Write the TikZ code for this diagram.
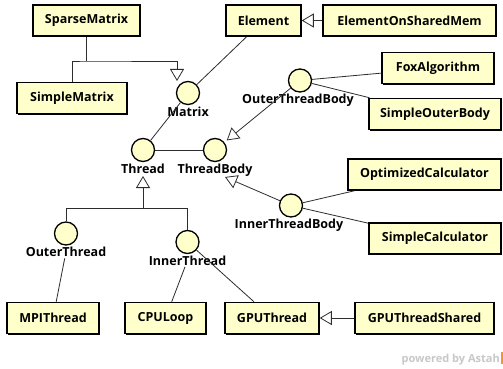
\documentclass[tikz,border=0pt]{standalone}
\usepackage{fontspec}
\setmainfont{Open Sans}
\usetikzlibrary{arrows.meta,shadows}
\definecolor{classfill}{RGB}{255,255,204}
\definecolor{linegray}{RGB}{45,45,45}
\definecolor{markgray}{RGB}{200,200,200}
\definecolor{astahorange}{RGB}{245,150,40}
\tikzset{
  classbox/.style={rectangle, draw=black, line width=1.5pt, fill=classfill,
    minimum height=31pt, inner sep=0pt,
    font=\fontsize{12.5}{14}\selectfont\bfseries,
    drop shadow={shadow xshift=1pt, shadow yshift=-1pt, fill=black, opacity=1}},
  iface/.style={circle, draw=black, line width=1.3pt, fill=classfill,
    minimum size=23pt, inner sep=0pt},
  ifacelabel/.style={anchor=base, inner sep=1.5pt,
    font=\fontsize{12.5}{14}\selectfont\bfseries},
  link/.style={draw=linegray, line width=0.8pt},
  gen/.style={link, -{Triangle[open, length=12pt, width=14pt, line width=0.8pt]}},
}
\begin{document}
\begin{tikzpicture}[x=1pt, y=-1pt]
\fill[white] (0,0) rectangle (503,369);
\useasboundingbox (0,0) rectangle (503,369);

% classes
\node[classbox, minimum width=107pt] (SparseMatrix) at (86.5,20.5) {SparseMatrix};
\node[classbox, minimum width=110pt] (SimpleMatrix) at (72,98) {SimpleMatrix};
\node[classbox, minimum width=75pt] (Element) at (263.5,20.5) {Element};
\node[classbox, minimum width=173pt] (ElementOnSharedMem) at (409.5,20.5) {ElementOnSharedMem};
\node[classbox, minimum width=112pt] (FoxAlgorithm) at (438,68) {FoxAlgorithm};
\node[classbox, minimum width=132pt] (SimpleOuterBody) at (435,114) {SimpleOuterBody};
\node[classbox, minimum width=153pt] (OptimizedCalculator) at (424.5,174.5) {OptimizedCalculator};
\node[classbox, minimum width=132pt] (SimpleCalculator) at (435,238.5) {SimpleCalculator};
\node[classbox, minimum width=92pt] (MPIThread) at (53,318) {MPIThread};
\node[classbox, minimum width=81pt] (CPULoop) at (165.5,318) {CPULoop};
\node[classbox, minimum width=94pt] (GPUThread) at (272,318) {GPUThread};
\node[classbox, minimum width=139pt] (GPUThreadShared) at (424.5,318) {GPUThreadShared};

% interfaces (lollipops) and their labels
\node[iface] (Matrix) at (188,93) {};
\node[ifacelabel] (MatrixL) at (188,116) {Matrix};
\node[iface] (OuterThreadBody) at (300,80.5) {};
\node[ifacelabel] (OuterThreadBodyL) at (298,103.5) {OuterThreadBody};
\node[iface] (Thread) at (143,150) {};
\node[ifacelabel] (ThreadL) at (143,173) {Thread};
\node[iface] (ThreadBody) at (215,150) {};
\node[ifacelabel] (ThreadBodyL) at (215,173) {ThreadBody};
\node[iface] (OuterThread) at (66,233.5) {};
\node[ifacelabel] (OuterThreadL) at (66,256.5) {OuterThread};
\node[iface] (InnerThread) at (187.5,242) {};
\node[ifacelabel] (InnerThreadL) at (187.5,265) {InnerThread};
\node[iface] (InnerThreadBody) at (291,205.5) {};
\node[ifacelabel] (InnerThreadBodyL) at (289,228.5) {InnerThreadBody};

% helper points for the generalization trees
\coordinate (mJoin) at (86.5,61);
\coordinate (mTip) at (177,81);
\coordinate (tJoin) at (143,208);
\coordinate (tTip) at (143,176);
\coordinate (tbTip) at (225,177);

% generalizations
\draw[link] (SparseMatrix.south) -- (mJoin);
\draw[gen] (SimpleMatrix.north) |- (mJoin) -| (mTip);
\draw[gen] (ElementOnSharedMem.west) -- (Element.east);
\draw[link] (InnerThread.north) |- (tJoin);
\draw[gen] (OuterThread.north) |- (tJoin) -- (tTip);
\draw[gen, shorten >=3pt] (OuterThreadBody) -- (ThreadBody);
\draw[gen] (InnerThreadBody) -- (tbTip);
\draw[gen] (GPUThreadShared.west) -- (GPUThread.east);

% realizations / usages
\draw[link] (Element) -- (Matrix);
\draw[link] (Matrix) -- (Thread);
\draw[link] (Thread) -- (ThreadBody);
\draw[link] (OuterThreadBody) -- (FoxAlgorithm);
\draw[link] (OuterThreadBody) -- (SimpleOuterBody);
\draw[link] (InnerThreadBody) -- (OptimizedCalculator);
\draw[link] (InnerThreadBody) -- (SimpleCalculator);
\draw[link] (OuterThreadL) -- (MPIThread);
\draw[link] (InnerThreadL) -- (CPULoop);
\draw[link] (InnerThread) -- (GPUThread);

% watermark
\node[anchor=base east, inner sep=0pt, text=markgray,
  font=\fontsize{11}{13}\selectfont\bfseries] (mark) at (500,362) {powered by Astah};
\fill[astahorange] (501,352) rectangle (503,364);
\end{tikzpicture}
\end{document}
